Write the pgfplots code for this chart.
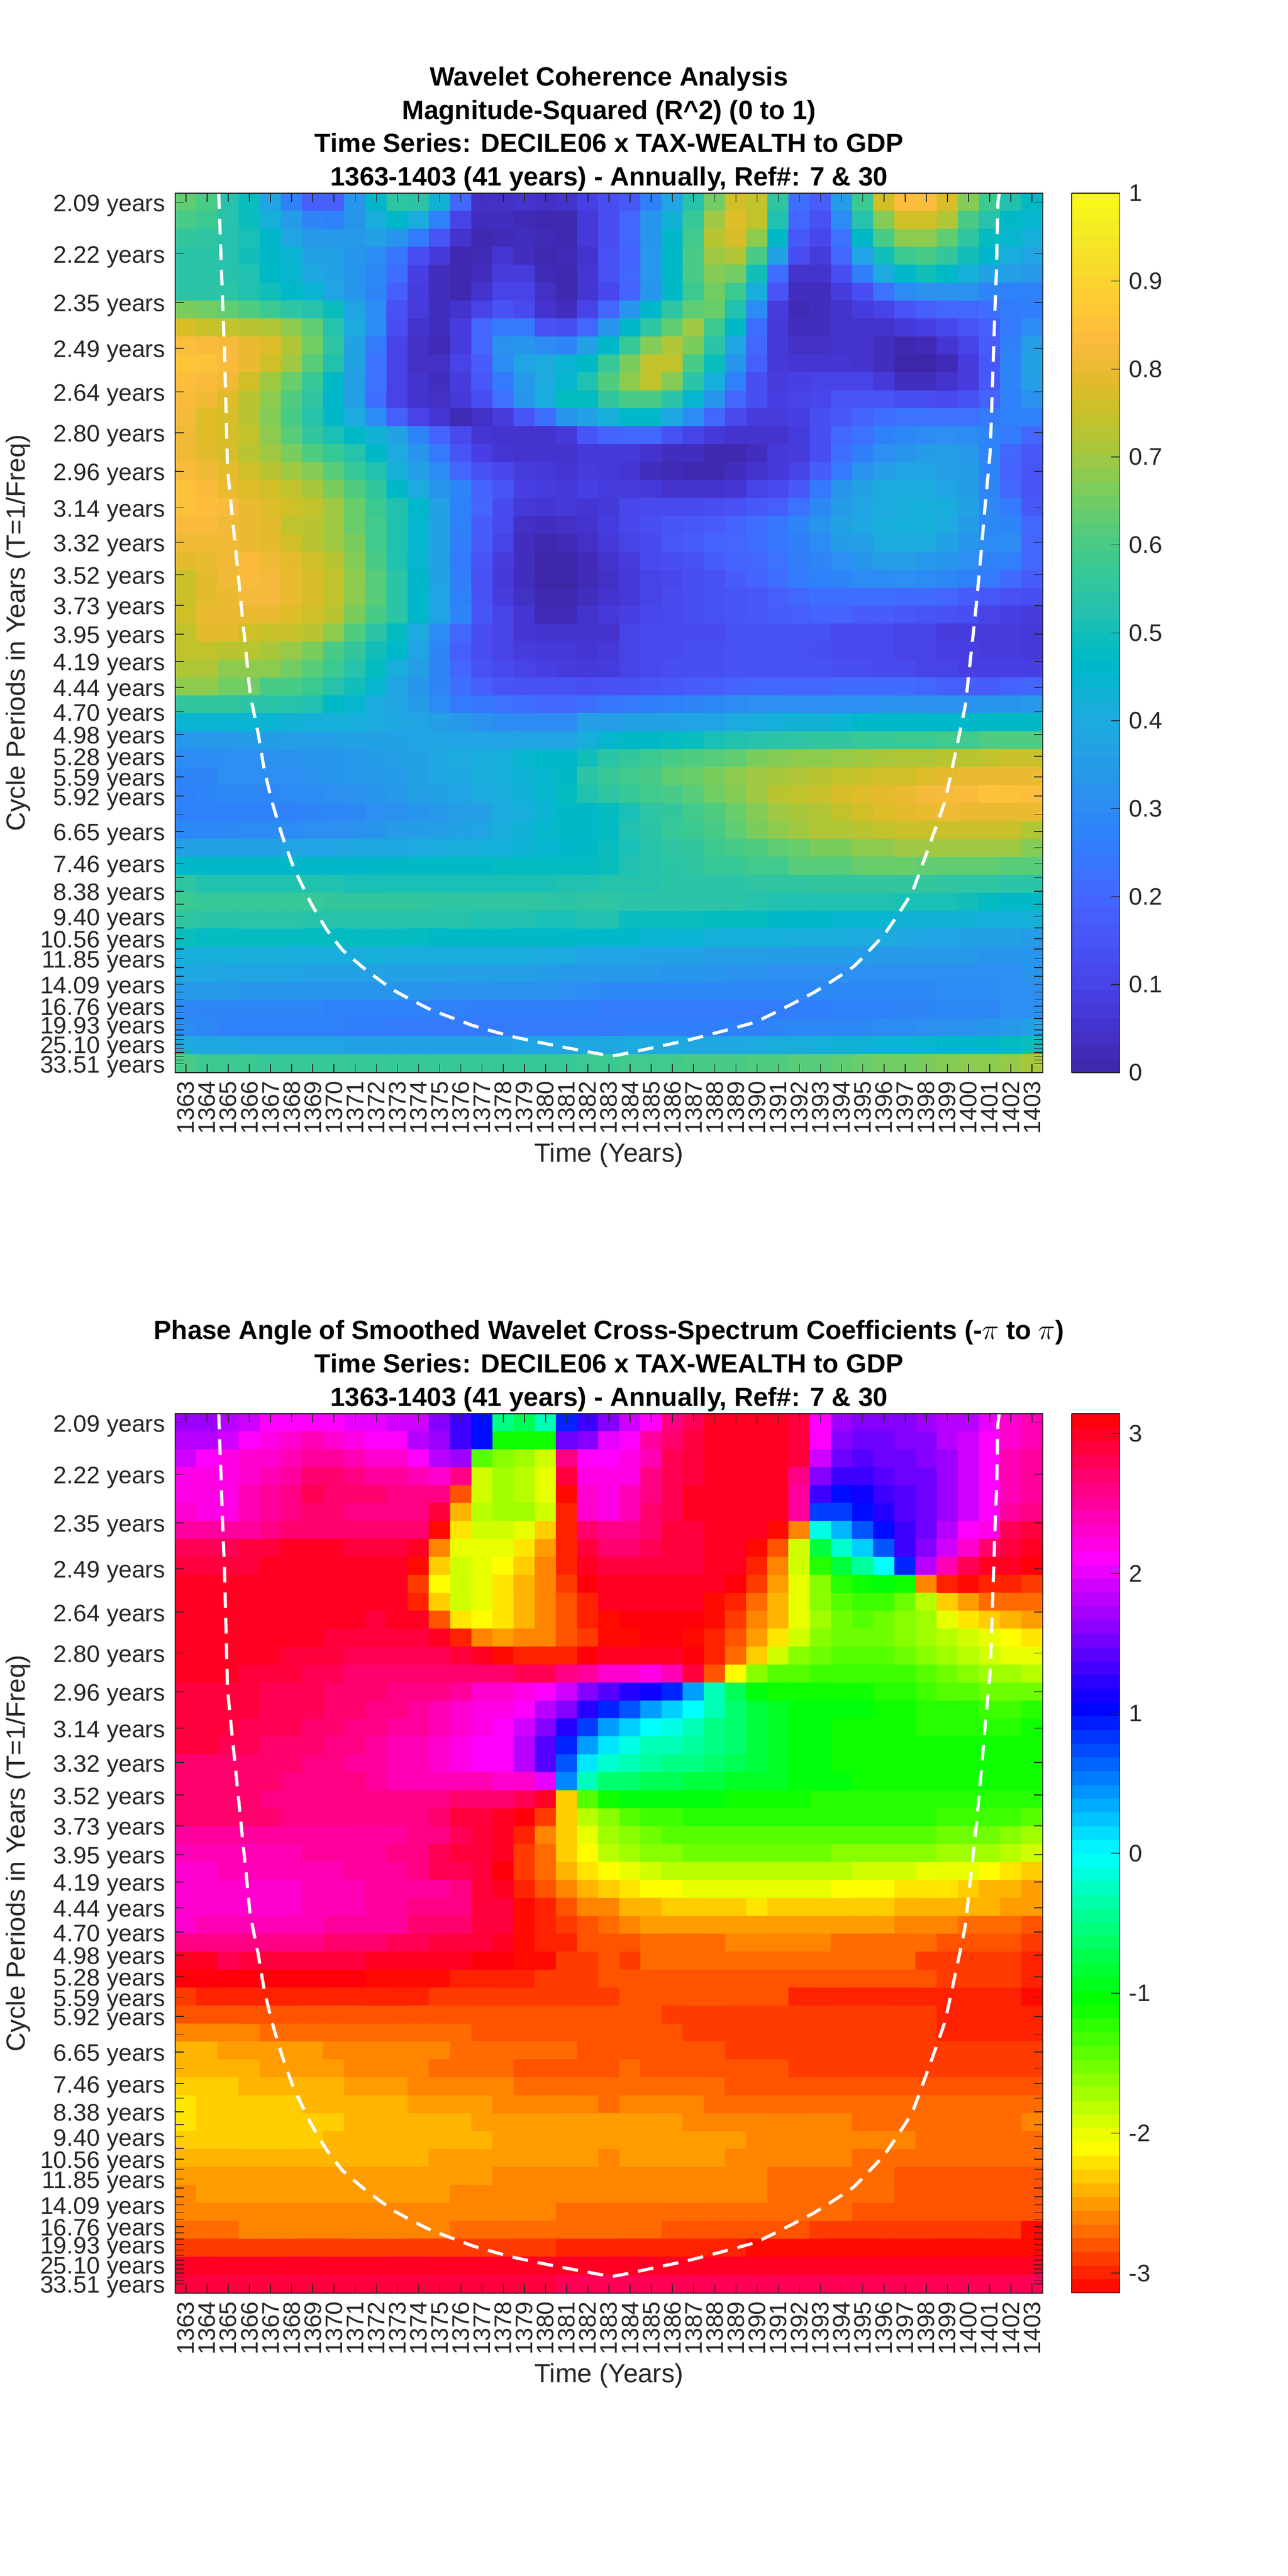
\documentclass[border=0pt]{standalone}
\usepackage{fontspec}
\setmainfont{Liberation Sans}
\usepackage{pgfplots}
\pgfplotsset{compat=1.18}
\definecolor{txt}{RGB}{38,38,38}
\def\zz#1 {\ifx!#1\else#1\noexpand\\\expandafter\zz\fi}
\edef\topdata{z\noexpand\\\zz
63 60 53 49 38 27 18 18 33 46 55 54 43 20 4 4 5 4 5 9 13 16 27 38 53 65 76 74 55 22 17 35 58 76 84 84 77 67 58 52 47
60 58 53 49 42 35 28 27 33 41 46 41 27 10 3 3 2 1 1 7 13 20 33 43 57 70 78 74 52 20 14 30 53 67 76 76 72 60 53 47 45
56 55 53 51 46 38 34 34 34 37 33 25 15 5 1 2 3 2 1 7 13 20 33 46 59 73 77 68 47 16 11 23 47 60 68 68 63 55 48 45 42
54 54 53 50 47 44 37 37 33 30 24 13 7 1 2 6 3 1 2 5 14 19 34 47 60 70 72 60 37 13 8 20 38 50 58 60 56 50 46 41 38
54 54 53 52 47 45 39 37 33 29 22 9 3 1 3 8 8 2 1 6 14 20 34 47 60 67 65 50 22 5 5 13 26 40 46 50 47 42 37 36 34
54 54 54 52 50 46 44 38 33 28 18 8 3 1 5 10 10 4 1 6 11 19 33 47 58 65 58 41 15 3 3 8 13 23 30 32 32 32 28 27 27
66 65 63 61 58 55 53 49 38 30 14 8 3 5 10 14 12 5 3 10 20 33 46 55 63 64 52 30 8 2 3 5 8 10 15 18 20 20 22 25 26
77 75 74 73 72 68 63 53 40 30 13 5 3 8 20 25 25 14 13 20 33 46 55 63 70 58 47 22 7 3 3 5 5 5 7 9 11 15 18 25 30
84 83 82 80 78 72 65 55 37 25 10 4 2 8 20 32 33 30 28 37 46 57 67 72 66 54 38 20 7 4 4 5 5 3 1 2 6 10 17 27 36
86 85 83 80 76 70 62 52 37 23 10 4 4 10 17 30 38 40 44 47 57 66 74 74 60 49 33 18 7 6 6 6 5 3 0 0 2 8 16 28 37
84 83 81 76 70 64 57 47 36 23 10 5 3 8 16 25 34 40 45 52 61 68 74 67 54 42 27 13 8 9 10 10 10 7 3 3 5 8 16 28 36
83 81 78 73 68 61 55 46 36 22 10 5 4 7 13 23 33 41 48 48 56 60 60 54 45 33 20 13 9 10 11 15 15 15 13 13 12 14 19 27 32
82 78 77 73 67 60 53 46 40 30 18 10 6 2 4 8 15 22 33 37 42 46 46 39 30 20 12 8 8 9 13 16 19 22 23 23 23 23 25 27 27
81 78 77 74 68 62 56 51 47 43 37 28 19 12 6 5 5 5 7 15 19 20 20 14 10 7 5 5 5 8 13 20 23 27 29 30 31 30 28 25 20
81 79 77 73 70 66 61 57 53 47 40 33 25 15 9 6 5 5 5 7 7 7 5 3 3 1 1 3 7 8 13 22 26 31 33 35 36 34 28 20 16
83 81 79 76 73 70 67 62 57 52 42 36 30 20 14 11 8 7 6 8 7 6 3 2 1 1 3 5 7 10 17 25 32 36 38 38 36 35 28 19 15
85 83 80 78 76 74 71 66 61 56 47 40 33 28 19 15 9 8 7 9 8 8 7 5 5 5 6 10 12 16 25 33 37 40 40 40 38 35 28 20 15
85 84 83 80 78 76 74 70 64 58 52 46 37 27 20 12 7 6 7 6 7 11 12 12 12 13 14 16 18 23 29 35 38 40 41 42 41 37 29 25 16
83 83 81 80 79 74 73 70 64 59 52 45 37 27 17 12 4 3 4 5 8 11 13 15 16 17 19 22 24 28 33 37 39 41 42 42 40 35 29 28 20
81 81 81 80 79 76 73 70 66 59 52 45 37 26 17 10 3 1 2 4 7 10 12 16 17 19 20 22 24 26 30 35 36 40 40 40 37 33 30 30 20
79 80 81 83 81 79 76 73 67 60 52 45 37 25 15 8 3 0 0 2 5 8 12 13 14 17 19 20 23 26 28 31 33 36 36 34 33 31 27 27 20
75 79 81 83 82 80 77 74 68 62 54 46 37 26 14 7 3 0 0 2 4 7 10 11 13 14 17 19 22 25 27 28 30 30 31 30 29 27 25 21 17
75 79 80 82 82 80 77 74 68 62 54 46 38 27 14 8 4 1 1 3 5 7 10 12 13 14 15 16 18 20 22 22 22 22 21 21 20 17 16 14 13
76 80 80 80 80 78 76 73 66 60 54 46 38 28 15 10 6 2 2 5 7 9 11 12 13 14 15 16 17 18 19 19 17 17 16 15 14 13 10 9 8
74 79 79 76 75 75 73 68 61 54 48 40 30 20 13 10 6 5 5 5 5 10 12 12 12 12 14 14 14 14 14 12 12 12 10 10 8 8 8 8 7
74 74 73 73 71 69 66 60 56 50 46 38 28 18 13 10 8 7 7 6 7 10 12 12 13 13 14 14 14 14 13 12 12 12 10 10 9 9 8 8 7
72 72 68 68 68 65 62 58 53 48 41 36 28 20 14 12 10 9 8 7 8 10 12 13 13 13 14 14 14 14 14 13 13 12 12 10 10 9 9 9 9
68 68 65 65 60 60 58 53 50 45 38 33 28 22 18 15 14 14 14 13 14 14 15 16 17 18 19 20 20 20 20 21 21 21 21 20 18 18 17 19 20
56 56 56 54 54 53 52 47 45 40 38 35 30 25 24 23 22 20 20 22 24 25 26 27 28 29 30 31 31 31 31 31 31 32 32 32 32 32 33 33 34
44 44 44 44 44 43 42 42 42 40 39 38 36 34 32 30 30 30 30 36 36 37 37 37 38 38 40 41 42 43 43 44 46 46 46 46 46 46 47 47 47
34 34 34 35 35 36 36 36 37 37 37 38 38 38 38 38 38 38 38 42 45 47 47 48 49 51 52 53 54 55 56 56 57 57 58 58 59 59 61 61 61
30 30 31 31 32 32 33 33 34 35 36 37 39 40 41 42 45 46 46 50 54 56 58 60 61 62 63 66 67 68 68 69 70 71 72 72 73 73 74 75 75
28 28 31 31 31 31 32 33 34 34 35 37 39 39 41 42 44 45 47 54 57 59 60 63 64 66 68 70 71 72 73 74 75 76 76 78 79 80 80 80 80
27 28 29 29 29 30 30 31 32 33 34 36 37 38 40 41 43 45 48 52 55 57 59 60 62 65 67 70 73 74 75 77 78 79 80 82 83 83 85 85 84
27 27 27 27 27 27 28 29 29 31 32 33 34 36 36 40 42 44 47 47 48 51 55 56 59 61 64 67 70 71 72 74 76 78 79 80 81 80 80 80 80
29 29 29 30 30 30 31 31 32 33 35 35 36 37 38 41 43 45 47 47 48 52 54 57 58 60 63 66 68 70 72 72 73 74 75 75 75 75 75 75 72
37 37 37 37 37 38 38 38 39 39 39 40 40 41 42 42 44 45 46 47 49 51 53 55 56 58 60 61 63 64 66 66 68 68 70 70 70 70 70 70 67
46 46 46 46 46 46 46 46 46 47 47 47 47 47 47 48 48 48 48 48 49 52 53 54 55 57 57 59 59 62 62 62 64 64 64 63 63 63 63 62 62
55 52 52 52 52 52 52 52 51 51 51 51 51 51 51 51 51 51 52 52 53 53 53 54 54 54 54 55 55 55 56 56 56 56 56 56 55 55 55 54 54
58 57 57 57 57 57 57 56 56 56 56 56 55 55 55 55 55 55 54 55 55 54 54 54 54 54 54 53 52 52 52 52 52 52 51 51 51 50 48 47 47
55 54 54 54 54 54 53 53 53 53 53 53 53 53 52 52 52 51 51 52 52 49 49 49 49 48 48 48 46 46 46 45 45 45 43 43 43 43 42 42 42
49 48 48 48 48 48 48 48 48 48 48 48 47 47 47 47 47 47 47 46 46 46 44 44 44 42 42 42 42 41 41 41 40 40 39 38 38 37 37 37 35
42 42 42 41 41 41 41 41 41 42 41 41 41 41 41 41 41 40 40 38 38 38 37 37 37 36 36 36 35 35 35 35 35 34 34 34 34 34 33 33 33
39 39 38 38 38 38 37 37 37 37 37 37 37 36 36 36 36 35 34 34 34 34 34 33 33 33 32 32 31 31 31 31 31 31 31 31 31 31 31 31 33
34 34 34 33 33 33 33 33 33 33 33 33 32 32 32 32 32 32 31 30 29 29 29 29 29 29 29 29 29 29 29 29 29 29 29 29 30 30 30 31 31
29 28 28 28 28 28 28 27 27 27 27 27 27 27 26 26 26 26 26 26 25 25 25 25 25 25 25 25 25 26 26 27 27 27 28 28 29 29 29 31 31
30 29 27 27 27 27 27 27 26 26 25 25 25 25 25 25 25 25 25 25 25 26 26 26 26 26 27 27 28 29 29 29 29 30 30 31 32 32 33 34 36
40 39 39 38 38 38 38 38 37 37 37 37 37 37 37 37 38 38 38 39 39 40 40 40 39 39 39 40 41 41 42 43 43 44 44 45 46 46 47 48 49
60 58 58 58 57 57 57 57 57 57 57 57 57 57 57 57 57 57 57 58 58 59 59 59 60 60 60 61 61 62 62 63 64 65 65 66 67 68 68 69 71
! }
\edef\botdata{z\noexpand\\\zz
17 17 18 19 21 21 21 21 20 20 19 19 16 13 10 -5 -7 -3 9 13 16 19 21 26 28 30 30 30 30 29 21 17 16 16 16 17 18 18 20 23 24
18 18 19 21 22 23 24 23 22 21 21 18 17 13 10 -11 -11 -11 15 16 20 21 25 27 29 30 30 30 30 29 21 16 15 15 16 16 18 19 21 23 24
19 21 22 23 23 24 25 25 24 23 23 21 18 17 -14 -16 -17 -19 26 21 21 22 24 28 29 30 30 30 30 29 19 15 14 15 15 16 17 19 21 24 25
22 22 22 23 24 25 27 27 26 25 25 24 23 26 -19 -17 -18 -20 29 22 22 22 26 28 29 30 30 30 30 26 16 13 13 14 15 15 17 19 21 24 25
22 22 22 24 25 26 28 27 27 27 26 26 26 -28 -19 -17 -18 -20 -31 23 22 24 26 28 30 30 30 30 30 25 13 10 11 13 14 15 17 19 21 24 25
23 22 22 24 25 26 27 27 26 26 26 26 29 -24 -18 -17 -17 -19 -30 23 22 24 27 28 30 30 30 30 30 25 8 8 10 12 14 15 17 19 21 25 26
25 25 25 25 26 27 27 27 27 27 27 27 -31 -22 -19 -19 -20 -23 -30 27 26 26 27 29 29 30 30 30 -31 -26 -1 3 7 10 13 15 18 21 22 28 29
28 28 28 29 29 30 30 30 29 29 29 30 -26 -20 -20 -20 -22 -25 -30 29 27 27 28 29 29 30 30 -31 -28 -19 -8 -2 2 7 13 16 19 23 27 29 30
29 29 29 29 30 30 30 30 30 30 30 -31 -23 -19 -20 -21 -23 -26 -30 30 29 29 29 29 29 30 30 -30 -26 -19 -12 -8 -4 0 9 18 24 28 30 30 31
30 30 30 30 30 30 30 30 30 30 30 -29 -21 -19 -20 -22 -24 -26 -29 31 30 30 30 30 30 30 31 -29 -25 -20 -16 -12 -11 -10 -11 -26 -30 -31 -30 -30 -29
30 30 30 30 30 30 30 30 30 30 30 -30 -23 -19 -20 -22 -24 -26 -28 -30 30 30 30 30 30 -31 -30 -27 -24 -20 -16 -14 -13 -13 -15 -18 -23 -25 -27 -27 -27
30 30 30 30 30 30 30 30 30 29 30 30 -28 -22 -21 -22 -24 -26 -28 -30 -31 31 31 31 31 -31 -29 -26 -24 -20 -17 -15 -14 -15 -16 -17 -20 -22 -23 -24 -25
30 30 30 30 30 30 30 29 29 29 29 29 30 -30 -26 -25 -26 -26 -28 -29 -31 -31 31 31 -31 -30 -28 -25 -22 -19 -16 -15 -15 -15 -16 -17 -18 -19 -20 -21 -22
30 30 30 30 30 29 29 29 28 28 28 28 28 29 30 -31 -30 -30 -30 31 30 30 30 30 31 -30 -27 -23 -19 -16 -15 -14 -14 -14 -15 -16 -17 -18 -19 -20 -20
30 30 30 29 29 29 28 28 27 27 27 27 27 27 27 27 28 28 26 25 23 23 22 24 29 -28 -21 -16 -14 -14 -13 -13 -13 -13 -13 -14 -15 -16 -17 -17 -18
29 29 29 29 28 28 28 27 27 27 26 26 26 25 23 23 22 21 19 16 14 12 11 9 4 -3 -7 -10 -11 -11 -11 -11 -11 -12 -12 -13 -14 -14 -15 -15 -15
29 29 29 29 28 28 28 27 27 26 26 25 24 23 22 22 21 18 16 12 9 7 4 2 0 -3 -6 -8 -9 -10 -10 -10 -10 -11 -11 -12 -12 -12 -13 -13 -12
29 29 29 28 28 28 27 27 26 26 25 25 24 23 22 21 19 16 12 8 4 2 0 -1 -3 -5 -6 -8 -9 -10 -10 -11 -11 -11 -11 -12 -12 -12 -12 -12 -11
29 29 28 28 27 27 27 26 26 25 24 24 23 22 21 21 18 14 9 4 1 -1 -3 -3 -4 -5 -6 -8 -9 -10 -10 -11 -11 -11 -11 -11 -11 -11 -11 -11 -11
27 27 27 27 27 27 26 26 25 25 24 24 23 22 21 21 18 14 7 1 -2 -3 -4 -5 -5 -6 -7 -8 -9 -10 -10 -11 -11 -11 -11 -11 -11 -11 -11 -11 -11
27 27 27 27 27 26 26 26 26 25 24 24 24 24 24 23 23 20 5 -3 -6 -6 -7 -7 -8 -8 -9 -9 -9 -10 -10 -10 -11 -11 -11 -11 -11 -11 -11 -11 -11
27 27 27 27 26 26 26 26 26 26 26 26 26 27 27 27 28 30 -23 -14 -11 -10 -10 -10 -10 -10 -11 -11 -11 -11 -12 -12 -12 -12 -12 -12 -12 -12 -12 -12 -12
27 27 27 27 27 26 26 26 26 26 26 26 27 29 29 30 31 -29 -23 -18 -16 -14 -13 -13 -12 -12 -12 -12 -12 -12 -12 -12 -12 -12 -12 -12 -13 -13 -13 -13 -14
25 25 25 25 25 25 25 25 25 25 25 26 26 28 29 30 -30 -26 -23 -20 -17 -16 -15 -14 -14 -14 -14 -14 -14 -14 -14 -14 -14 -14 -14 -14 -15 -15 -15 -16 -17
24 24 24 24 24 24 25 25 25 25 26 26 28 29 29 30 -29 -27 -23 -21 -18 -17 -16 -16 -15 -15 -15 -15 -15 -15 -15 -16 -16 -16 -16 -16 -17 -17 -17 -18 -19
23 23 24 24 24 24 24 24 25 25 25 26 28 28 29 31 -29 -27 -24 -22 -21 -20 -19 -18 -18 -18 -18 -18 -18 -18 -18 -18 -19 -19 -19 -20 -20 -20 -21 -22 -23
23 23 23 23 23 23 24 24 24 25 25 25 25 26 29 30 -30 -28 -26 -24 -23 -22 -21 -21 -20 -20 -20 -20 -20 -20 -20 -21 -21 -21 -22 -22 -22 -23 -24 -24 -25
23 23 23 23 23 23 24 24 24 25 25 26 26 26 29 29 -31 -30 -28 -26 -26 -24 -24 -23 -23 -23 -23 -22 -23 -23 -23 -23 -23 -23 -24 -24 -24 -24 -24 -25 -25
23 24 24 24 24 24 24 25 25 25 25 27 27 27 29 29 -31 -30 -29 -28 -27 -26 -25 -25 -25 -25 -25 -25 -25 -25 -25 -25 -25 -25 -26 -26 -26 -27 -27 -27 -28
26 26 26 26 26 26 26 27 27 27 28 28 29 29 29 30 -31 -30 -30 -28 -28 -28 -27 -27 -27 -27 -26 -26 -26 -26 -26 -27 -27 -27 -27 -27 -28 -28 -28 -28 -29
30 30 28 29 29 29 29 29 29 30 30 30 30 30 31 31 -31 -31 -29 -29 -28 -29 -27 -27 -27 -27 -27 -27 -27 -27 -27 -27 -27 -27 -27 -29 -29 -29 -29 -29 -30
31 31 31 31 31 31 31 31 31 -31 -31 -31 -31 -30 -30 -30 -30 -29 -29 -29 -28 -28 -28 -28 -28 -28 -28 -28 -28 -28 -28 -28 -28 -28 -28 -28 -29 -29 -29 -29 -30
-29 -30 -30 -30 -30 -30 -30 -30 -30 -30 -30 -30 -29 -29 -29 -29 -29 -29 -29 -29 -29 -28 -28 -28 -28 -28 -28 -28 -28 -30 -30 -30 -30 -30 -30 -30 -30 -30 -30 -30 -31
-28 -28 -28 -28 -28 -28 -28 -28 -28 -28 -28 -28 -28 -28 -28 -28 -28 -28 -28 -28 -28 -28 -28 -29 -29 -29 -29 -29 -29 -29 -29 -29 -29 -29 -29 -29 -30 -30 -30 -30 -30
-26 -26 -26 -26 -27 -27 -27 -27 -27 -27 -27 -27 -27 -27 -28 -28 -28 -28 -28 -28 -28 -28 -28 -28 -29 -29 -29 -29 -29 -29 -29 -29 -29 -29 -29 -29 -30 -30 -30 -30 -30
-24 -24 -25 -25 -25 -25 -25 -26 -26 -26 -26 -26 -26 -27 -27 -27 -27 -27 -27 -28 -28 -28 -28 -28 -28 -28 -29 -29 -29 -29 -29 -29 -29 -29 -29 -29 -29 -29 -29 -29 -29
-24 -24 -24 -24 -25 -25 -25 -25 -26 -26 -26 -26 -27 -27 -27 -27 -28 -28 -28 -28 -28 -27 -28 -28 -28 -28 -28 -28 -28 -29 -29 -29 -29 -29 -29 -29 -29 -29 -29 -29 -29
-23 -23 -23 -24 -24 -24 -24 -24 -25 -25 -25 -26 -26 -26 -26 -26 -27 -27 -27 -27 -27 -27 -27 -27 -27 -27 -28 -28 -28 -28 -28 -28 -28 -28 -28 -28 -28 -28 -28 -28 -28
-22 -23 -23 -23 -23 -23 -24 -24 -24 -24 -24 -25 -25 -25 -25 -26 -26 -26 -26 -26 -27 -26 -26 -26 -26 -27 -27 -27 -27 -27 -27 -27 -27 -27 -27 -27 -27 -27 -27 -27 -27
-22 -23 -23 -23 -23 -23 -23 -23 -24 -24 -24 -24 -24 -24 -25 -25 -25 -25 -25 -25 -25 -25 -25 -25 -26 -26 -26 -26 -26 -26 -26 -26 -27 -27 -27 -27 -27 -27 -27 -27 -26
-23 -23 -23 -23 -23 -23 -23 -24 -24 -24 -24 -24 -24 -24 -24 -25 -25 -25 -25 -25 -25 -25 -25 -25 -25 -25 -25 -26 -26 -26 -26 -26 -26 -26 -26 -27 -27 -27 -27 -27 -27
-24 -24 -24 -24 -24 -24 -24 -24 -24 -24 -24 -24 -25 -25 -25 -25 -25 -25 -25 -25 -26 -25 -25 -25 -25 -25 -26 -26 -26 -26 -26 -26 -27 -27 -27 -27 -27 -27 -27 -27 -27
-25 -25 -25 -25 -25 -25 -25 -25 -25 -25 -25 -25 -25 -25 -25 -26 -26 -26 -26 -26 -26 -26 -26 -26 -26 -26 -26 -26 -27 -27 -27 -27 -27 -27 -28 -28 -28 -28 -28 -28 -28
-26 -25 -25 -25 -25 -25 -25 -25 -25 -25 -25 -25 -25 -26 -26 -26 -26 -26 -26 -26 -26 -26 -26 -26 -26 -26 -26 -26 -27 -27 -27 -27 -27 -27 -28 -28 -28 -28 -28 -28 -28
-26 -26 -26 -26 -26 -26 -26 -26 -26 -26 -26 -26 -26 -26 -26 -26 -26 -26 -27 -27 -27 -27 -27 -27 -27 -27 -27 -27 -27 -27 -27 -27 -28 -28 -28 -28 -28 -28 -28 -28 -28
-27 -27 -27 -26 -26 -26 -26 -26 -26 -26 -26 -26 -26 -27 -27 -27 -27 -27 -27 -27 -27 -27 -27 -28 -28 -28 -28 -28 -28 -28 -29 -29 -29 -29 -29 -29 -29 -29 -29 -29 -31
-29 -29 -29 -29 -29 -29 -29 -29 -29 -29 -29 -29 -29 -29 -29 -29 -29 -29 -30 -30 -30 -30 -30 -30 -30 -30 -30 -31 -31 -31 -31 -31 -31 -31 -31 -31 -31 -31 -31 -31 -31
30 30 30 30 30 30 30 30 30 30 30 30 30 30 30 30 30 30 30 30 30 30 30 30 30 30 30 30 30 30 30 30 30 30 30 30 30 30 30 30 30
29 29 29 29 29 29 29 29 29 29 29 29 29 29 29 29 29 29 28 28 28 28 28 28 28 28 28 28 28 28 28 28 28 28 28 28 28 28 28 28 28
! }
\pgfplotsset{
 colormap={parula64}{rgb=(.2422,.1504,.6603) rgb=(.2504,.1650,.7076) rgb=(.2578,.1818,.7511) rgb=(.2647,.1978,.7952) rgb=(.2706,.2147,.8364) rgb=(.2751,.2342,.8710) rgb=(.2783,.2559,.8991) rgb=(.2803,.2782,.9221) rgb=(.2813,.3006,.9414) rgb=(.2810,.3228,.9579) rgb=(.2795,.3447,.9717) rgb=(.2760,.3667,.9829) rgb=(.2699,.3892,.9906) rgb=(.2602,.4123,.9952) rgb=(.2440,.4358,.9988) rgb=(.2206,.4603,.9973) rgb=(.1963,.4847,.9892) rgb=(.1834,.5074,.9798) rgb=(.1786,.5289,.9682) rgb=(.1764,.5499,.9520) rgb=(.1687,.5703,.9359) rgb=(.1540,.5902,.9218) rgb=(.1460,.6091,.9079) rgb=(.1380,.6276,.8973) rgb=(.1248,.6459,.8883) rgb=(.1113,.6635,.8763) rgb=(.0952,.6798,.8598) rgb=(.0689,.6948,.8394) rgb=(.0297,.7082,.8163) rgb=(.0036,.7203,.7917) rgb=(.0067,.7312,.7660) rgb=(.0433,.7411,.7394) rgb=(.0964,.7500,.7120) rgb=(.1408,.7584,.6842) rgb=(.1717,.7670,.6554) rgb=(.1938,.7758,.6251) rgb=(.2161,.7843,.5923) rgb=(.2470,.7918,.5567) rgb=(.2906,.7973,.5188) rgb=(.3406,.8008,.4789) rgb=(.3909,.8029,.4354) rgb=(.4456,.8024,.3909) rgb=(.5044,.7993,.3480) rgb=(.5616,.7942,.3045) rgb=(.6174,.7876,.2612) rgb=(.6720,.7793,.2227) rgb=(.7242,.7698,.1910) rgb=(.7738,.7598,.1646) rgb=(.8203,.7498,.1535) rgb=(.8634,.7406,.1596) rgb=(.9035,.7330,.1774) rgb=(.9393,.7288,.2100) rgb=(.9728,.7298,.2394) rgb=(.9956,.7434,.2371) rgb=(.9970,.7659,.2199) rgb=(.9952,.7893,.2028) rgb=(.9892,.8136,.1885) rgb=(.9786,.8386,.1766) rgb=(.9676,.8639,.1643) rgb=(.9610,.8890,.1537) rgb=(.9597,.9135,.1423) rgb=(.9628,.9373,.1265) rgb=(.9691,.9606,.1064) rgb=(.9769,.9839,.0805)},
 colormap={hsv7}{rgb255=(255,0,0) rgb255=(255,255,0) rgb255=(0,255,0) rgb255=(0,255,255) rgb255=(0,0,255) rgb255=(255,0,255) rgb255=(255,0,0)},
 every axis/.append style={
  tick label style={font=\fontsize{14.5}{16}\selectfont,color=txt},
  every tick/.append style={color=txt,line width=0.5pt},
  axis line style={color=txt,line width=0.6pt},
  tick align=inside, major tick length=5.25pt,
 },
 mapax/.style={
  scale only axis, width=526.25pt, height=533.5pt, anchor=south west,
  xmin=1362.5,xmax=1403.5,ymin=-0.5,ymax=48.5,y dir=reverse,axis on top,enlargelimits=false,
  xtick={1363,1364,...,1403},
  /pgf/number format/.cd,assume math mode=true,1000 sep={},/pgfplots/.cd,
  xticklabel style={rotate=90,anchor=east,inner sep=0pt,xshift=-5pt},
  ytick={0,2.874,5.586,8.146,10.563,12.844,14.996,17.028,18.946,20.756,22.465,24.078,25.6,27.037,28.393,29.673,30.881,32.022,33.098,34.114,35.073,35.978,36.833,37.639,38.4,39.118,39.797,40.437,41.04,41.611,42.149,42.657,43.137,43.589,44.017,44.42,44.8,45.159,45.498,45.818,46.12,46.406,46.675,46.928,47.168,47.394,47.608,47.81,48},
  yticklabels={2.09 years,2.22 years,2.35 years,2.49 years,2.64 years,2.80 years,2.96 years,3.14 years,3.32 years,3.52 years,3.73 years,3.95 years,4.19 years,4.44 years,4.70 years,4.98 years,5.28 years,5.59 years,5.92 years,,6.65 years,,7.46 years,,8.38 years,,9.40 years,,10.56 years,,11.85 years,,,14.09 years,,,16.76 years,,,19.93 years,,,,25.10 years,,,,,33.51 years},
  yticklabel style={anchor=east,inner sep=0pt,xshift=-6pt,yshift=-2pt},
  xlabel={Time (Years)},ylabel={Cycle Periods in Years (T=1/Freq)},
  every axis x label/.style={at={(axis description cs:0.5,-0.094)},anchor=center,font=\fontsize{16}{18}\selectfont,color=txt},
  every axis y label/.style={at={(axis description cs:-0.1815,0.5)},rotate=90,anchor=center,font=\fontsize{16}{18}\selectfont,color=txt},
  title style={at={(0.5,1)},anchor=south,align=center,inner sep=0pt,yshift=-5pt,font=\fontsize{16}{20.25}\selectfont\bfseries,color=black},
 },
 barstyle/.style={
  scale only axis, at={(parent axis.north east)},anchor=north west,xshift=9pt,width=29.25pt,height=533.5pt,
  samples=65,ytick pos=right,yticklabel pos=right,
  yticklabel style={anchor=west,inner sep=0pt,xshift=5.5pt},
 },
}
\def\drawtop#1{\addplot[matrix plot*,mesh/cols=41,mesh/rows=49,point meta={\thisrow{z}/100}] table[row sep=\\,x expr={1363+\coordindex-41*floor((\coordindex+0.5)/41)},y expr={floor((\coordindex+0.5)/41)}]{#1};}
\def\drawbot#1{\addplot[matrix plot*,mesh/cols=41,mesh/rows=49,point meta={\thisrow{z}/10}] table[row sep=\\,x expr={1363+\coordindex-41*floor((\coordindex+0.5)/41)},y expr={floor((\coordindex+0.5)/41)}]{#1};}
\def\coi{\addplot[white,line width=1.9pt,dash pattern=on 9.5pt off 6pt,smooth,tension=0.2] coordinates {
(1364.55,-0.5)(1364.64,2.45)(1364.73,5.49)(1364.82,8.16)(1364.88,10.82)(1364.97,14.82)(1365.19,17.5)(1365.48,20.88)(1365.66,23.01)(1365.85,25.17)(1366.04,27.42)(1366.41,29.58)(1366.69,31.53)(1367.06,33.37)(1367.53,35.23)(1368.09,37.07)(1368.93,39.11)(1369.67,40.56)(1370.41,41.68)(1371.54,42.81)(1372.84,43.93)(1374.52,44.97)(1376.56,45.88)(1378.43,46.5)(1380.28,46.96)(1383,47.56)(1383.58,47.49)(1386.75,46.69)(1389.93,45.68)(1392.67,44.05)(1394.56,42.6)(1396.04,40.76)(1397.31,38.49)(1398.15,35.83)(1398.88,33.37)(1399.41,30.5)(1399.84,28.04)(1400.15,24.76)(1400.33,22.81)(1400.58,19.66)(1400.79,16.77)(1401.01,14.01)(1401.11,10.8)(1401.22,6.78)(1401.32,3.55)(1401.38,0.17)(1401.45,-0.5)};}
\begin{document}
\begin{tikzpicture}
\path[use as bounding box] (0,0) rectangle (781.25pt,1563pt);
\begin{axis}[mapax,at={(106.4pt,912.25pt)},colormap name=parula64,point meta min=0,point meta max=1,
 title={Wavelet Coherence Analysis\\Magnitude-Squared (R\textasciicircum 2) (0 to 1)\\Time Series: DECILE06 x TAX-WEALTH to GDP\\1363-1403 (41 years) - Annually, Ref\#: 7 \& 30},
 colorbar sampled,colorbar style={barstyle,ytick={0,0.1,...,1},yticklabels={0,0.1,0.2,0.3,0.4,0.5,0.6,0.7,0.8,0.9,1}}]
\expandafter\drawtop\expandafter{\topdata}
\coi
\end{axis}
\begin{axis}[mapax,at={(106.4pt,171.75pt)},colormap name=hsv7,point meta min=-3.14159,point meta max=3.14159,
 title={Phase Angle of Smoothed Wavelet Cross-Spectrum Coefficients (-$\pi$ to $\pi$)\\Time Series: DECILE06 x TAX-WEALTH to GDP\\1363-1403 (41 years) - Annually, Ref\#: 7 \& 30},
 colorbar sampled,colorbar style={barstyle,ytick={-3,-2,-1,0,1,2,3},yticklabels={-3,-2,-1,0,1,2,3}}]
\expandafter\drawbot\expandafter{\botdata}
\coi
\end{axis}
\end{tikzpicture}
\end{document}
